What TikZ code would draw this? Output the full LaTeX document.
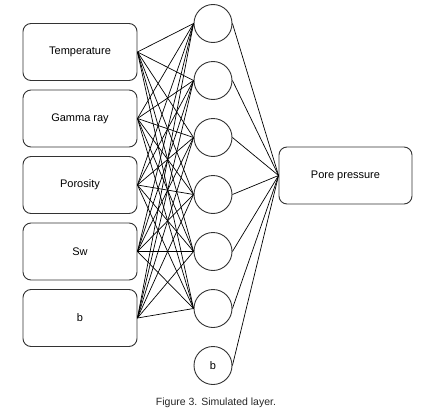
\documentclass[tikz,border=0pt]{standalone}
\usepackage{fontspec}
\setmainfont{Liberation Sans}
\begin{document}
\begin{tikzpicture}[x=1pt,y=-1pt,
  inbox/.style={draw=black!80,line width=0.9pt,rounded corners=8pt,minimum width=114pt,minimum height=57pt,inner sep=0pt,font=\fontsize{11}{13}\selectfont},
  neuron/.style={draw=black!80,line width=0.9pt,circle,minimum size=38pt,inner sep=0pt,font=\fontsize{11}{13}\selectfont},
  link/.style={draw=black,line width=0.7pt}]
\useasboundingbox (0,0) rectangle (434,415);
\node[inbox] (i1) at (80,52) {Temperature};
\node[inbox] (i2) at (80,118.5) {Gamma ray};
\node[inbox] (i3) at (80,185) {Porosity};
\node[inbox] (i4) at (80,251.5) {Sw};
\node[inbox] (i5) at (80,318) {b};
\node[neuron] (h1) at (213,23.5) {};
\node[neuron] (h2) at (213,80.5) {};
\node[neuron] (h3) at (213,137.5) {};
\node[neuron] (h4) at (213,194.5) {};
\node[neuron] (h5) at (213,251.5) {};
\node[neuron] (h6) at (213,308.5) {};
\node[neuron] (h7) at (213,365.5) {b};
\node[inbox,minimum width=133pt] (o) at (345.5,175.5) {Pore pressure};
\foreach \i in {1,...,5}{
  \foreach \j in {1,...,6}{
    \draw[link] (i\i.east) -- (h\j.west);
  }
}
\foreach \j in {1,...,7}{
  \draw[link] (h\j.east) -- (o.west);
}
\node[font=\fontsize{10.5}{12}\selectfont,text=black!85] (cap) at (216,403) {Figure 3. Simulated layer.};
\end{tikzpicture}
\end{document}
